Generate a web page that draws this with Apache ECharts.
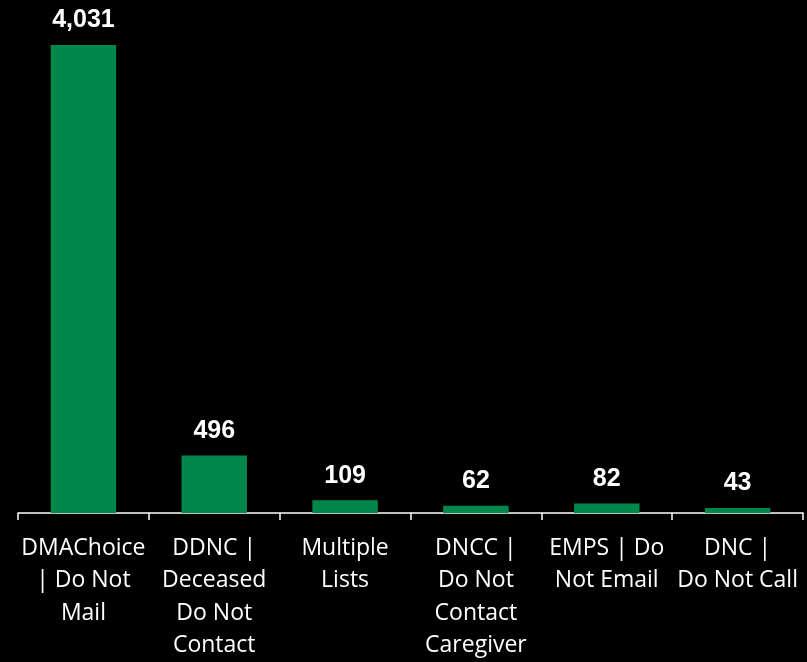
<!DOCTYPE html>
<html>
<head>
<meta charset="utf-8">
<script src="https://cdn.jsdelivr.net/npm/echarts@6/dist/echarts.min.js"></script>
<style>
  html, body { margin: 0; padding: 0; background: #000; }
  #chart { width: 807px; height: 662px; }
</style>
</head>
<body>
<div id="chart"></div>
<script>
// categories and counts
var categories = [
  'DMAChoice\n| Do Not\nMail',
  'DDNC |\nDeceased\nDo Not\nContact',
  'Multiple\nLists',
  'DNCC |\nDo Not\nContact\nCaregiver',
  'EMPS | Do\nNot Email',
  'DNC |\nDo Not Call'
];
var counts = [4031, 496, 109, 62, 82, 43];

var chart = echarts.init(document.getElementById('chart'));
var option = {
  backgroundColor: '#000',
  animation: false,
  grid: { left: 18, right: 4, top: 45, bottom: 144 },
  xAxis: {
    type: 'category',
    data: categories,
    axisLine: { lineStyle: { color: '#fff', width: 1.5 } },
    axisTick: { show: true, length: 7, lineStyle: { color: '#fff', width: 1.5 } },
    axisLabel: {
      color: '#fff',
      fontFamily: 'Open Sans',
      fontSize: 23,
      lineHeight: 32.5,
      margin: 19,
      interval: 0
    }
  },
  yAxis: {
    type: 'value',
    min: 0,
    max: 4031,
    show: false,
    splitLine: { show: false }
  },
  series: [{
    type: 'bar',
    data: counts,
    barWidth: '50%',
    itemStyle: { color: '#00874B' },
    label: {
      show: true,
      position: 'top',
      distance: 12,
      color: '#fff',
      fontFamily: 'Liberation Sans',
      fontWeight: 'bold',
      fontSize: 25,
      formatter: function (p) {
        return p.value.toLocaleString('en-US');
      }
    }
  }]
};
chart.setOption(option);
</script>
</body>
</html>
